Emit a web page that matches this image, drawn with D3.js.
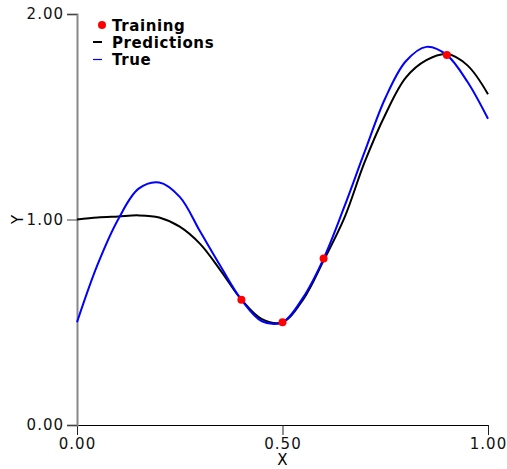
<!DOCTYPE html>
<html>
<head>
<meta charset="utf-8">
<script src="https://cdn.jsdelivr.net/npm/d3@7"></script>
<style>
  body { margin: 0; background: #fff; }
  svg { display: block; font-family: "DejaVu Sans", Verdana, sans-serif; }
</style>
</head>
<body>
<div class="chart"></div>
<script>
// x positions sampled every 0.05
const xs = [0, 0.05, 0.10, 0.15, 0.20, 0.25, 0.30, 0.35, 0.40, 0.45, 0.50,
  0.55, 0.60, 0.65, 0.70, 0.75, 0.80, 0.85, 0.90, 0.95, 1.00];
const trueVals = [0.50, 0.78, 1.00, 1.15, 1.18, 1.11, 0.94, 0.77, 0.61, 0.505, 0.50,
  0.62, 0.81, 1.06, 1.33, 1.59, 1.77, 1.84, 1.80, 1.67, 1.49];
const predVals = [1.00, 1.01, 1.015, 1.02, 1.01, 0.965, 0.88, 0.75, 0.61, 0.515, 0.50,
  0.61, 0.80, 1.005, 1.28, 1.51, 1.69, 1.775, 1.805, 1.75, 1.61];
const trainX = [0.4, 0.5, 0.6, 0.9];
const trainY = [0.61, 0.50, 0.81, 1.80];
const xTicks = [0, 0.5, 1];
const yTicks = [0, 1, 2];
const legendNames = ["Training", "Predictions", "True"];

const width = 507, height = 469;
const margin = {top: 14, right: 19, bottom: 44, left: 77};

const x = d3.scaleLinear().domain([0, 1]).range([margin.left, width - margin.right]);
const y = d3.scaleLinear().domain([0, 2]).range([height - margin.bottom, margin.top]);

const svg = d3.select(".chart").append("svg")
  .attr("width", width)
  .attr("height", height);

// axes
const xAxis = svg.append("g")
  .attr("transform", "translate(0," + y(0) + ")")
  .call(d3.axisBottom(x).tickValues(xTicks).tickFormat(d3.format(".2f")).tickSizeOuter(0).tickSize(10).tickPadding(3));
xAxis.select(".domain").attr("stroke", "#000");
xAxis.selectAll(".tick line").attr("stroke", "#222");
xAxis.selectAll("text")
  .attr("font-size", 15).attr("fill", "#111")
  .style("font-family", "DejaVu Sans").style("letter-spacing", "1px");

const yAxis = svg.append("g")
  .attr("transform", "translate(" + x(0) + ",0)")
  .call(d3.axisLeft(y).tickValues(yTicks).tickFormat(d3.format(".2f")).tickSizeOuter(0).tickSize(10).tickPadding(3));
yAxis.select(".domain").attr("stroke", "#888").attr("stroke-width", 2);
yAxis.selectAll(".tick line").attr("stroke", "#444");
yAxis.selectAll("text")
  .attr("font-size", 15).attr("fill", "#111")
  .style("font-family", "DejaVu Sans").style("letter-spacing", "1px");

// axis titles
svg.append("text")
  .attr("x", x(0.5)).attr("y", 465)
  .attr("text-anchor", "middle")
  .attr("font-size", 15)
  .text("X");

svg.append("text")
  .attr("transform", "translate(23," + y(1) + ") rotate(-90)")
  .attr("text-anchor", "middle")
  .attr("font-size", 15)
  .text("Y");

// lines
const line = d3.line()
  .x((d, i) => x(xs[i]))
  .y(d => y(d))
  .curve(d3.curveCatmullRom.alpha(0.5));

svg.append("path")
  .datum(predVals)
  .attr("fill", "none")
  .attr("stroke", "#000")
  .attr("stroke-width", 2)
  .attr("d", line);

svg.append("path")
  .datum(trueVals)
  .attr("fill", "none")
  .attr("stroke", "#0000ff")
  .attr("stroke-width", 2)
  .attr("d", line);

svg.selectAll("circle.train")
  .data(trainX)
  .enter().append("circle")
  .attr("class", "train")
  .attr("cx", d => x(d))
  .attr("cy", (d, i) => y(trainY[i]))
  .attr("r", 4)
  .attr("fill", "#ff0000");

// legend
const legend = svg.append("g").attr("transform", "translate(93,25)");
legend.append("circle").attr("cx", 9).attr("cy", 0).attr("r", 4).attr("fill", "#ff0000");
legend.append("line").attr("x1", 0).attr("x2", 9).attr("y1", 17).attr("y2", 17)
  .attr("stroke", "#000").attr("stroke-width", 2);
legend.append("line").attr("x1", 0).attr("x2", 9).attr("y1", 34.5).attr("y2", 34.5)
  .attr("stroke", "#0000ff").attr("stroke-width", 1.2);
legend.selectAll("text")
  .data(legendNames)
  .enter().append("text")
  .attr("x", 19)
  .attr("y", (d, i) => 6 + i * 17)
  .attr("font-size", 15)
  .attr("font-weight", "bold")
  .style("letter-spacing", "0.6px")
  .text(d => d);
</script>
</body>
</html>
